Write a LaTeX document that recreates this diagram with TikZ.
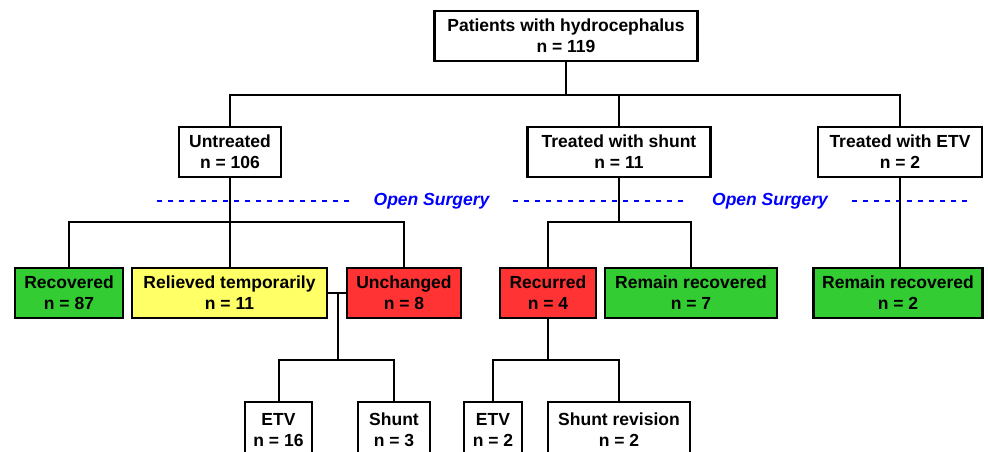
\documentclass[tikz,border=0pt]{standalone}
\usepackage{fontspec}
\setmainfont{Liberation Sans}
\definecolor{okgreen}{HTML}{33CC33}
\definecolor{tempyellow}{HTML}{FFFF66}
\definecolor{badred}{HTML}{FF3333}

\begin{document}
\begin{tikzpicture}[x=1pt,y=-1pt,
		box/.style={draw,line width=2.5pt,fill=white,align=center,minimum height=50pt,inner sep=0pt,font=\bfseries\fontsize{17.5}{21}\selectfont},
		link/.style={line width=2pt},
		surgery/.style={blue,line width=2pt,dash pattern=on 5pt off 6pt},
		surgerytext/.style={blue,inner sep=0pt,font=\bfseries\itshape\fontsize{17.5}{21}\selectfont}]
	\useasboundingbox (0,0) rectangle (988,451);
	% first level
	\node[box,minimum width=263pt] (patients) at (566,36) {Patients with hydrocephalus\\n = 119};
	\node[box,minimum width=102pt] (untreated) at (230,152) {Untreated\\n = 106};
	\node[box,minimum width=183pt] (shunt) at (619,152) {Treated with shunt\\n = 11};
	\node[box,minimum width=164pt] (etv) at (900,152) {Treated with ETV\\n = 2};
	% open surgery
	\node[surgerytext] (surgery1) at (431.5,201) {Open Surgery};
	\node[surgerytext] (surgery2) at (770,201) {Open Surgery};
	\draw[surgery] (157,201) -- (352,201);
	\draw[surgery] (513,201) -- (687,201);
	\draw[surgery] (852,201) -- (968,201);
	% outcome
	\node[box,fill=okgreen,minimum width=108pt] (recovered) at (69,293) {Recovered\\n = 87};
	\node[box,fill=tempyellow,minimum width=195pt] (relieved) at (229.5,293) {Relieved temporarily\\n = 11};
	\node[box,fill=badred,minimum width=114pt] (unchanged) at (404,293) {Unchanged\\n = 8};
	\node[box,fill=badred,minimum width=96pt] (recurred) at (548,293) {Recurred\\n = 4};
	\node[box,fill=okgreen,minimum width=172pt] (remain7) at (691,293) {Remain recovered\\n = 7};
	\node[box,fill=okgreen,minimum width=169pt] (remain2) at (898,293) {Remain recovered\\n = 2};
	% second surgery
	\node[box,minimum width=67pt,minimum height=56pt] (etv16) at (278.5,430) {ETV\\n = 16};
	\node[box,minimum width=72pt,minimum height=56pt] (shunt3) at (394,430) {Shunt\\n = 3};
	\node[box,minimum width=58pt,minimum height=56pt] (etv2) at (493,430) {ETV\\n = 2};
	\node[box,minimum width=142pt,minimum height=56pt] (revision) at (619,430) {Shunt revision\\n = 2};
	% connectors
	\coordinate (bus1) at (0,95);
	\coordinate (bus2) at (0,222);
	\coordinate (bus3) at (0,360);
	\coordinate (join) at (338,293);
	\draw[link] (patients.south) -- (patients.south |- bus1);
	\draw[link] (untreated.north) |- (etv.north |- bus1) -- (etv.north);
	\draw[link] (shunt.north) -- (shunt.north |- bus1);
	\draw[link] (untreated.south) -- (untreated.south |- bus2);
	\draw[link] (recovered.north) |- (unchanged.north |- bus2) -- (unchanged.north);
	\draw[link] (relieved.north) -- (relieved.north |- bus2);
	\draw[link] (shunt.south) -- (shunt.south |- bus2);
	\draw[link] (recurred.north) |- (remain7.north |- bus2) -- (remain7.north);
	\draw[link] (etv.south) -- (etv.south |- remain2.north);
	\draw[link] (relieved.east) -- (unchanged.west);
	\draw[link] (join) -- (join |- bus3);
	\draw[link] (etv16.north) |- (shunt3.north |- bus3) -- (shunt3.north);
	\draw[link] (recurred.south) -- (recurred.south |- bus3);
	\draw[link] (etv2.north) |- (revision.north |- bus3) -- (revision.north);
\end{tikzpicture}
\end{document}
